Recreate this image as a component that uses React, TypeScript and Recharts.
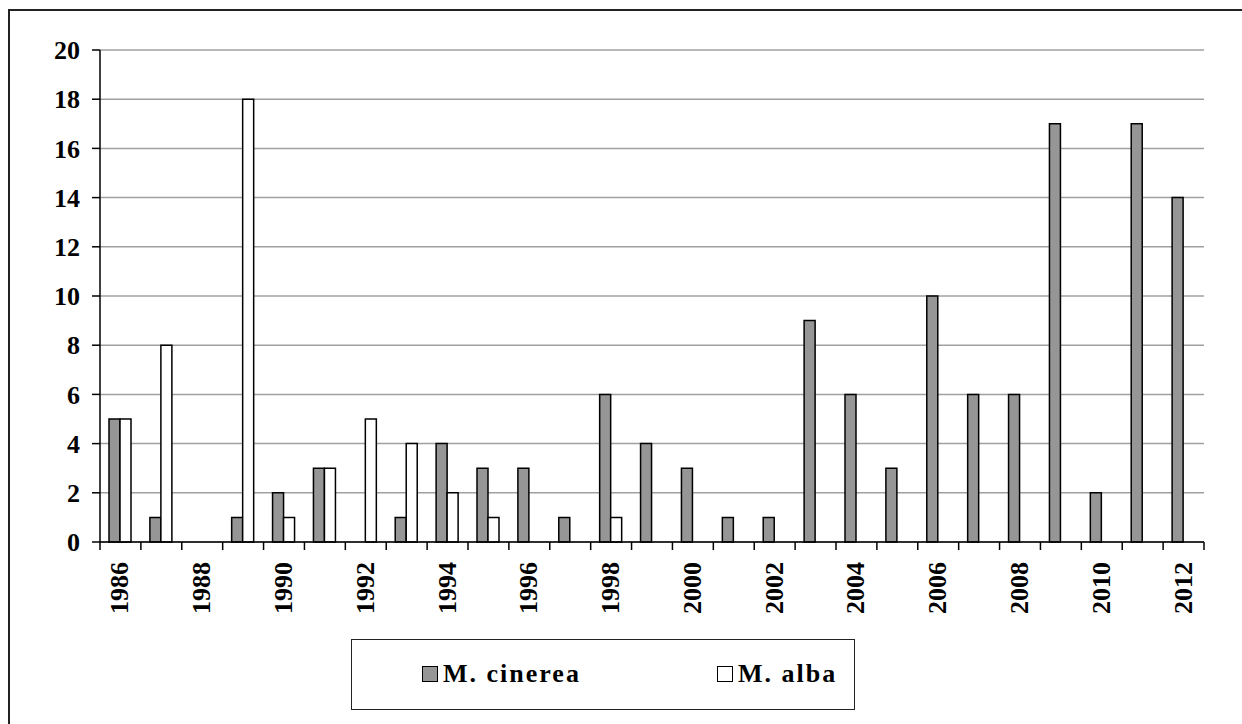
import { Bar, BarChart, CartesianGrid, XAxis, YAxis } from "recharts";

const years = [
  "1986", "1987", "1988", "1989", "1990", "1991", "1992", "1993", "1994",
  "1995", "1996", "1997", "1998", "1999", "2000", "2001", "2002", "2003",
  "2004", "2005", "2006", "2007", "2008", "2009", "2010", "2011", "2012",
];
const cinerea = [5, 1, 0, 1, 2, 3, 0, 1, 4, 3, 3, 1, 6, 4, 3, 1, 1, 9, 6, 3, 10, 6, 6, 17, 2, 17, 14];
const alba = [5, 8, 0, 18, 1, 3, 5, 4, 2, 1, 0, 0, 1, 0, 0, 0, 0, 0, 0, 0, 0, 0, 0, 0, 0, 0, 0];
const yTicks = [0, 2, 4, 6, 8, 10, 12, 14, 16, 18, 20];

const data = years.map((year, i) => ({
  year,
  cinerea: cinerea[i],
  alba: alba[i],
}));

const FONT = "'Liberation Serif', 'Times New Roman', serif";
const GRAY = "#969696";

const series = [
  { key: "cinerea", name: "M. cinerea", fill: GRAY },
  { key: "alba", name: "M. alba", fill: "#fff" },
];

const YearTick = (props: any) => {
  const { x, y, payload, index } = props;
  const half = payload?.offset ?? 20.45;
  const last = index === years.length - 1;
  return (
    <g>
      <line x1={x - half} x2={x - half} y1={y} y2={y + 8} stroke="#000" strokeWidth={1.5} />
      {last && <line x1={x + half} x2={x + half} y1={y} y2={y + 8} stroke="#000" strokeWidth={1.5} />}
      {index % 2 === 0 && (
        <text
          transform={`translate(${x + 8},${y + 20}) rotate(-90)`}
          textAnchor="end"
          fontFamily={FONT}
          fontWeight={700}
          fontSize={26}
          fill="#000"
        >
          {payload.value}
        </text>
      )}
    </g>
  );
};

const LegendBox = () => (
  <div
    style={{
      position: "absolute",
      left: 351,
      top: 639,
      width: 504,
      height: 71,
      border: "1.5px solid #222",
      boxSizing: "border-box",
      fontFamily: FONT,
      fontWeight: 700,
      fontSize: 26,
      color: "#000",
    }}
  >
    {series.map((s, i) => (
      <div
        key={s.key}
        style={{
          position: "absolute",
          left: i === 0 ? 70 : 365,
          top: 19,
          display: "flex",
          alignItems: "center",
          whiteSpace: "nowrap",
        }}
      >
        <span
          style={{
            display: "inline-block",
            width: 14,
            height: 14,
            background: s.fill,
            border: "1.5px solid #000",
            marginRight: 5,
          }}
        />
        <span style={{ letterSpacing: 2 }}>{s.name}</span>
      </div>
    ))}
  </div>
);

export default function App() {
  return (
    <div style={{ position: "absolute", left: 0, top: 0, width: 1242, height: 724, background: "#fff", overflow: "hidden" }}>
      <div
        style={{
          position: "absolute",
          left: 8,
          top: 9,
          width: 1260,
          height: 760,
          border: "2px solid #222",
          boxSizing: "border-box",
        }}
      />
      <BarChart
        width={1242}
        height={724}
        data={data}
        margin={{ top: 50, right: 38, left: 40, bottom: 102 }}
        barGap={0}
        barSize={11}
        style={{ position: "absolute", left: 0, top: 0 }}
      >
        <CartesianGrid vertical={false} stroke="#a0a0a0" strokeWidth={1.5} />
        <XAxis
          dataKey="year"
          interval={0}
          height={80}
          tickLine={false}
          tickSize={0}
          tickMargin={0}
          axisLine={{ stroke: "#000", strokeWidth: 1.5 }}
          tick={<YearTick />}
        />
        <YAxis
          domain={[0, 20]}
          ticks={yTicks}
          width={60}
          tickSize={8}
          tickMargin={12}
          axisLine={{ stroke: "#000", strokeWidth: 1.5 }}
          tickLine={{ stroke: "#000", strokeWidth: 1.5 }}
          tick={{ fontFamily: FONT, fontWeight: 700, fontSize: 26, fill: "#000" }}
        />
        <YAxis
          yAxisId="right"
          orientation="right"
          width={0}
          tick={false}
          tickLine={false}
          axisLine={{ stroke: "#a0a0a0", strokeWidth: 1.5 }}
        />
        {series.map((s) => (
          <Bar
            key={s.key}
            dataKey={s.key}
            name={s.name}
            fill={s.fill}
            stroke="#000"
            strokeWidth={1.5}
            isAnimationActive={false}
          />
        ))}
      </BarChart>
      <LegendBox />
    </div>
  );
}
